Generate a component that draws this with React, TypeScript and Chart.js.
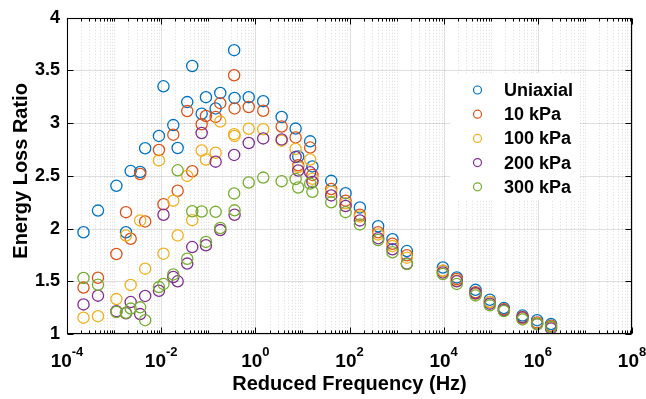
import React, { useEffect, useRef } from "react";
import { Chart, registerables } from "chart.js";

Chart.register(...registerables);

// Reduced frequency (Hz) shared by all series
const reducedFrequency = [
  2.24e-4, 4.55e-4, 1.12e-3, 1.79e-3, 2.25e-3, 3.58e-3, 4.57e-3, 8.97e-3, 1.12e-2, 1.81e-2,
  2.24e-2, 3.58e-2, 4.57e-2, 7.24e-2, 8.93e-2, 0.1435, 0.18, 0.355, 0.362, 0.724,
  1.47, 3.62, 7.17, 8.15, 14.6, 16.3, 40.9, 82.6, 166, 406,
  818, 1655, 9615, 1.9e4, 4.75e4, 9.57e4, 1.9e5, 4.73e5, 9.66e5, 1.91e6,
];

const uniaxial = [
  1.965, 2.171, 2.406, 1.965, 2.546, 2.537, 2.762, 2.879, 3.35, 2.982,
  2.765, 3.2, 3.543, 3.09, 3.247, 3.14, 3.287, 3.693, 3.24, 3.247,
  3.209, 3.059, 2.949, 2.684, 2.828, 2.59, 2.453, 2.336, 2.2, 2.022,
  1.9, 1.787, 1.631, 1.537, 1.419, 1.325, 1.246, 1.175, 1.131, 1.094,
];
const kPa10 = [
  1.44, 1.534, 1.759, 2.156, 1.904, 2.518, 2.068, 2.746, 2.231, 2.891,
  2.359, 3.115, 2.544, 2.99, 3.068, 3.06, 3.19, 3.455, 3.14, 3.154,
  3.118, 2.968, 2.865, 2.6, 2.769, 2.509, 2.375, 2.265, 2.131, 1.965,
  1.856, 1.747, 1.6, 1.522, 1.396, 1.303, 1.234, 1.162, 1.11, 1.078,
];
const kPa100 = [
  1.155, 1.169, 1.331, 1.934, 1.466, 2.078, 1.62, 2.647, 1.762, 2.265,
  1.935, 2.5, 2.08, 2.741, 2.656, 2.72, 3.015, 2.896, 2.879, 2.947,
  2.943, 2.834, 2.755, 2.584, 2.656, 2.473, 2.35, 2.24, 2.115, 1.944,
  1.834, 1.724, 1.6, 1.506, 1.381, 1.303, 1.225, 1.147, 1.1, 1.063,
];
const kPa200 = [
  1.281, 1.364, 1.217, 1.197, 1.303, 1.189, 1.361, 1.41, 2.131, 1.541,
  1.5, 1.668, 1.825, 2.907, 1.842, 2.635, 1.986, 2.699, 2.131, 2.812,
  2.856, 2.846, 2.68, 2.551, 2.534, 2.443, 2.315, 2.214, 2.078, 1.909,
  1.803, 1.668, 1.584, 1.5, 1.387, 1.288, 1.225, 1.156, 1.094, 1.053,
];
const kPa300 = [
  1.531, 1.467, 1.209, 1.201, 1.241, 1.253, 1.131, 1.445, 1.475, 1.565,
  2.553, 1.714, 2.165, 2.162, 1.874, 2.159, 2.006, 2.334, 2.173, 2.437,
  2.484, 2.45, 2.471, 2.39, 2.427, 2.35, 2.249, 2.156, 2.04, 1.892,
  1.776, 1.663, 1.569, 1.475, 1.366, 1.272, 1.218, 1.138, 1.094, 1.068,
];

const seriesLabels = ["Uniaxial", "10 kPa", "100 kPa", "200 kPa", "300 kPa"];
const seriesValues = [uniaxial, kPa10, kPa100, kPa200, kPa300];
const seriesColors = ["#0072BD", "#D95319", "#EDB120", "#7E2F8E", "#77AC30"];

const xTickExponents = [-4, -2, 0, 2, 4, 6, 8];
const yTickValues = [1, 1.5, 2, 2.5, 3, 3.5, 4];

const xTitle = "Reduced Frequency (Hz)";
const yTitle = "Energy Loss Ratio";

const FONT = "'Liberation Sans', Arial, Helvetica, sans-serif";

const decorPlugin = {
  id: "matlabDecor",
  beforeDatasetsDraw(chart: any) {
    const { ctx, chartArea: a, scales } = chart;
    const x = scales.x;
    const y = scales.y;
    ctx.save();
    // minor grid (dotted)
    ctx.lineWidth = 1;
    ctx.strokeStyle = "rgba(40,40,40,0.16)";
    ctx.setLineDash([1, 2]);
    for (let k = -4; k <= 7; k++) {
      for (let m = 1; m <= 9; m++) {
        if (m === 1 && k % 2 === 0) continue;
        const px = Math.round(x.getPixelForValue(m * Math.pow(10, k))) + 0.5;
        ctx.beginPath();
        ctx.moveTo(px, a.top);
        ctx.lineTo(px, a.bottom);
        ctx.stroke();
      }
    }
    // major grid
    ctx.setLineDash([]);
    ctx.strokeStyle = "rgba(40,40,40,0.15)";
    for (const e of xTickExponents) {
      const px = Math.round(x.getPixelForValue(Math.pow(10, e))) + 0.5;
      ctx.beginPath();
      ctx.moveTo(px, a.top);
      ctx.lineTo(px, a.bottom);
      ctx.stroke();
    }
    for (const v of yTickValues) {
      const py = Math.round(y.getPixelForValue(v)) + 0.5;
      ctx.beginPath();
      ctx.moveTo(a.left, py);
      ctx.lineTo(a.right, py);
      ctx.stroke();
    }
    ctx.restore();
  },
  afterDatasetsDraw(chart: any) {
    const { ctx, chartArea: a, scales } = chart;
    const x = scales.x;
    const y = scales.y;
    ctx.save();

    // legend
    const lx0 = 450, ly0 = 73, lw = 130, lh = 127;
    ctx.fillStyle = "#ffffff";
    ctx.fillRect(lx0, ly0, lw, lh);
    ctx.font = `bold 18px ${FONT}`;
    ctx.textBaseline = "middle";
    ctx.textAlign = "left";
    chart.data.datasets.forEach((ds: any, i: number) => {
      const cy = 90 + i * 24.2;
      ctx.beginPath();
      ctx.arc(477.5, cy, 4, 0, Math.PI * 2);
      ctx.strokeStyle = ds.borderColor;
      ctx.lineWidth = 1.2;
      ctx.stroke();
      ctx.fillStyle = "#000";
      ctx.fillText(ds.label, 504, cy + 1);
    });

    // axes box
    const L = Math.round(a.left) + 0.5, R = Math.round(a.right) - 0.5;
    const T = Math.round(a.top) + 0.5, B = Math.round(a.bottom) - 0.5;
    ctx.strokeStyle = "#000";
    ctx.lineWidth = 1.1;
    ctx.strokeRect(L, T, R - L, B - T);

    // x ticks (inward, bottom and top)
    ctx.lineWidth = 1;
    for (let k = -4; k <= 8; k++) {
      for (let m = 1; m <= 9; m++) {
        const v = m * Math.pow(10, k);
        if (v > 1e8 * 1.0001) continue;
        const major = m === 1 && k % 2 === 0;
        const len = major ? 6 : 3;
        const px = Math.round(x.getPixelForValue(v)) + 0.5;
        ctx.beginPath();
        ctx.moveTo(px, B);
        ctx.lineTo(px, B - len);
        ctx.moveTo(px, T);
        ctx.lineTo(px, T + len);
        ctx.stroke();
      }
    }
    // y ticks (inward, left and right)
    for (const v of yTickValues) {
      const py = Math.round(y.getPixelForValue(v)) + 0.5;
      ctx.beginPath();
      ctx.moveTo(L, py);
      ctx.lineTo(L + 6, py);
      ctx.moveTo(R, py);
      ctx.lineTo(R - 6, py);
      ctx.stroke();
    }

    // x tick labels 10^e
    ctx.fillStyle = "#000";
    ctx.textBaseline = "alphabetic";
    ctx.textAlign = "left";
    for (const e of xTickExponents) {
      const px = x.getPixelForValue(Math.pow(10, e));
      const base = "10";
      const exp = String(e);
      ctx.font = `bold 19px ${FONT}`;
      const wb = ctx.measureText(base).width;
      ctx.font = `bold 13px ${FONT}`;
      const we = ctx.measureText(exp).width;
      const start = px - (wb + we) / 2;
      ctx.font = `bold 19px ${FONT}`;
      ctx.fillText(base, start, 367);
      ctx.font = `bold 13px ${FONT}`;
      ctx.fillText(exp, start + wb, 356);
    }

    // titles
    ctx.font = `bold 20px ${FONT}`;
    ctx.textAlign = "center";
    ctx.textBaseline = "alphabetic";
    ctx.fillText(xTitle, (a.left + a.right) / 2, 390);
    ctx.save();
    ctx.translate(27, (a.top + a.bottom) / 2 - 5);
    ctx.rotate(-Math.PI / 2);
    ctx.fillText(yTitle, 0, 0);
    ctx.restore();

    ctx.restore();
  },
};

export default function App() {
  const canvasRef = useRef<HTMLCanvasElement | null>(null);

  useEffect(() => {
    const canvas = canvasRef.current;
    if (!canvas) return;
    const datasets = seriesLabels.map((label, i) => ({
      label,
      data: reducedFrequency.map((f, j) => ({ x: f, y: seriesValues[i][j] })),
      borderColor: seriesColors[i],
      backgroundColor: "rgba(0,0,0,0)",
      pointRadius: 5.6,
      pointBorderWidth: 1.3,
      pointStyle: "circle",
      showLine: false,
      order: seriesLabels.length - i,
    }));
    const chart = new Chart(canvas, {
      type: "scatter",
      data: { datasets },
      options: {
        responsive: false,
        animation: false,
        devicePixelRatio: 1,
        layout: { padding: { left: 8, top: 14, right: 14, bottom: 0 } },
        plugins: { legend: { display: false }, tooltip: { enabled: false } },
        scales: {
          x: {
            type: "logarithmic",
            min: 1e-4,
            max: 1e8,
            grid: { display: false, drawTicks: false },
            border: { display: false },
            ticks: { display: false },
            afterFit: (s: any) => {
              s.height = 65;
            },
          },
          y: {
            type: "linear",
            min: 1,
            max: 4,
            grid: { display: false, drawTicks: false },
            border: { display: false },
            ticks: {
              stepSize: 0.5,
              color: "#000",
              padding: 7,
              font: { family: FONT, size: 18, weight: "bold" },
              callback: (v: any) => String(Number(v)),
            },
            afterFit: (s: any) => {
              s.width = 59;
            },
          },
        },
      },
      plugins: [decorPlugin],
    } as any);
    return () => chart.destroy();
  }, []);

  return (
    <div style={{ position: "fixed", left: 0, top: 0, width: 646, height: 399, background: "#fff" }}>
      <canvas ref={canvasRef} width={646} height={399} style={{ display: "block", width: 646, height: 399 }} />
    </div>
  );
}
